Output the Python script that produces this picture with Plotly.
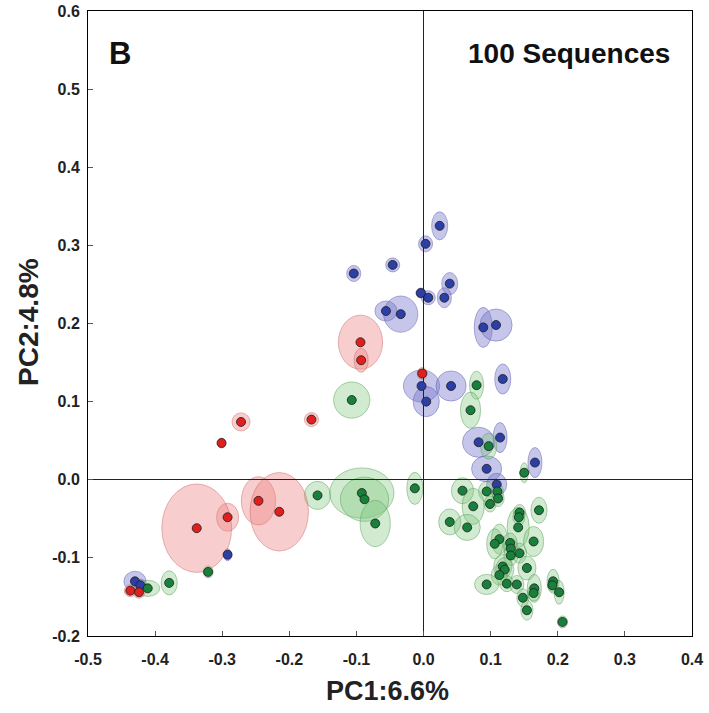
import plotly.graph_objects as go

# ---- data (PC1, PC2, ellipse half-widths) ----
blue_x = [0.024, 0.003, -0.104, -0.046, 0.039, -0.004, 0.007, 0.031, -0.056, -0.034, 0.089, 0.108,
          -0.003, 0.004, 0.041, 0.118, 0.082, 0.114, 0.094, 0.166, 0.109, -0.292, -0.430, -0.422]
blue_y = [0.325, 0.302, 0.264, 0.275, 0.251, 0.239, 0.233, 0.233, 0.216, 0.212, 0.195, 0.198,
          0.120, 0.100, 0.120, 0.129, 0.048, 0.054, 0.014, 0.022, -0.006, -0.096, -0.130, -0.135]
blue_sx = [0.012, 0.0105, 0.0105, 0.0105, 0.012, 0.0075, 0.0105, 0.0105, 0.0165, 0.0255, 0.0135, 0.024,
           0.027, 0.0195, 0.0225, 0.012, 0.024, 0.0105, 0.0225, 0.0105, 0.015, 0.006, 0.0165, 0.009]
blue_sy = [0.018, 0.0103, 0.0103, 0.009, 0.0142, 0.0064, 0.009, 0.0129, 0.0129, 0.0232, 0.0257, 0.0206,
           0.0206, 0.0193, 0.0193, 0.0193, 0.0193, 0.0193, 0.0167, 0.0193, 0.0142, 0.0077, 0.0129, 0.0077]

red_x = [-0.094, -0.093, -0.002, -0.167, -0.272, -0.301, -0.246, -0.215, -0.292, -0.338, -0.437, -0.424]
red_y = [0.176, 0.153, 0.136, 0.077, 0.074, 0.047, -0.027, -0.041, -0.048, -0.062, -0.142, -0.144]
red_sx = [0.033, 0.0105, 0.0075, 0.0105, 0.0135, 0.006, 0.0255, 0.0435, 0.0165, 0.052, 0.009, 0.009]
red_sy = [0.0347, 0.0154, 0.0077, 0.009, 0.0116, 0.0064, 0.0309, 0.0502, 0.018, 0.0566, 0.0077, 0.0077]

green_x = [-0.107, 0.079, 0.070, 0.097, 0.150, -0.013, -0.158, -0.092, -0.088, -0.072, -0.321, -0.379,
           -0.411, 0.058, 0.094, 0.110, 0.111, 0.074, 0.099, 0.039, 0.065, 0.172, 0.143, 0.142,
           0.141, 0.113, 0.106, 0.164, 0.129, 0.130, 0.130, 0.143, 0.118, 0.121, 0.154, 0.113,
           0.094, 0.124, 0.139, 0.165, 0.164, 0.148, 0.154, 0.193, 0.192, 0.202, 0.207]
green_y = [0.102, 0.121, 0.089, 0.043, 0.009, -0.011, -0.020, -0.017, -0.025, -0.056, -0.118, -0.132,
           -0.139, -0.014, -0.015, -0.015, -0.024, -0.034, -0.031, -0.054, -0.061, -0.039, -0.042, -0.048,
           -0.061, -0.076, -0.082, -0.079, -0.081, -0.088, -0.097, -0.094, -0.111, -0.115, -0.113, -0.122,
           -0.134, -0.133, -0.134, -0.139, -0.145, -0.151, -0.167, -0.130, -0.135, -0.144, -0.182]
green_sx = [0.027, 0.0105, 0.015, 0.012, 0.006, 0.012, 0.0195, 0.048, 0.036, 0.0225, 0.0075, 0.012,
            0.018, 0.0165, 0.012, 0.009, 0.009, 0.0165, 0.009, 0.0165, 0.0195, 0.012, 0.009, 0.009,
            0.0165, 0.012, 0.012, 0.015, 0.0105, 0.0105, 0.0105, 0.0105, 0.0135, 0.0135, 0.0135, 0.012,
            0.018, 0.0105, 0.0105, 0.0105, 0.009, 0.009, 0.009, 0.009, 0.0075, 0.0075, 0.0075]
green_sy = [0.0232, 0.018, 0.0232, 0.0167, 0.0129, 0.0206, 0.018, 0.0322, 0.0283, 0.0296, 0.0077, 0.0154,
            0.0103, 0.0167, 0.0129, 0.0103, 0.0103, 0.0232, 0.0103, 0.0167, 0.0167, 0.0167, 0.0103, 0.0103,
            0.0257, 0.0193, 0.0193, 0.0193, 0.0129, 0.0129, 0.0129, 0.0129, 0.0154, 0.0154, 0.0154, 0.0129,
            0.0129, 0.0103, 0.0116, 0.018, 0.0103, 0.0116, 0.0129, 0.0154, 0.0077, 0.0154, 0.0077]

x_ticks = [-0.5, -0.4, -0.3, -0.2, -0.1, 0.0, 0.1, 0.2, 0.3, 0.4]
y_ticks = [-0.2, -0.1, 0.0, 0.1, 0.2, 0.3, 0.4, 0.5, 0.6]
x_title = "PC1:6.6%"
y_title = "PC2:4.8%"
panel_label = "B"
subtitle = "100 Sequences"

groups = [
    (blue_x, blue_y, blue_sx, blue_sy, "#2b3fa6", "rgba(120,120,205,0.42)", "rgba(90,90,170,0.45)"),
    (green_x, green_y, green_sx, green_sy, "#17803a", "rgba(120,195,120,0.34)", "rgba(80,150,80,0.45)"),
    (red_x, red_y, red_sx, red_sy, "#e11f1f", "rgba(238,130,130,0.40)", "rgba(200,100,100,0.45)"),
]

FONT = "Arial, Liberation Sans, sans-serif"
# plot area on screen: x 88..692, y 11..636 (page body margin removed by post_script)
W, H = 709, 713
L, T, R, B = 88, 11, 17, 77
PW, PH = W - L - R, H - T - B


def px(sx):
    return (sx - L) / PW


def py(sy):
    return (H - B - sy) / PH


fig = go.Figure()
shapes = []
for xs, ys, sxs, sys_, mc, fc, lc in groups:
    for x, y, sx, sy in zip(xs, ys, sxs, sys_):
        shapes.append(dict(type="circle", xref="x", yref="y", x0=x - sx, x1=x + sx, y0=y - sy, y1=y + sy,
                           fillcolor=fc, line=dict(color=lc, width=1), layer="below"))
for xs, ys, sxs, sys_, mc, fc, lc in groups:
    fig.add_trace(go.Scatter(x=xs, y=ys, mode="markers",
                             marker=dict(size=9, color=mc, line=dict(color="rgba(30,30,30,0.8)", width=1)),
                             showlegend=False, hoverinfo="skip"))

axis_common = dict(showline=True, linecolor="black", linewidth=1, mirror=True, ticks="inside", ticklen=5,
                   tickcolor="#555", showgrid=False, zeroline=True, zerolinecolor="#222", zerolinewidth=1,
                   tickfont=dict(family=FONT, size=16, color="#222"), automargin=False)
fig.update_layout(
    width=W, height=H, plot_bgcolor="white", paper_bgcolor="white",
    margin=dict(l=L, r=R, t=T, b=B),
    shapes=shapes,
    xaxis=dict(range=[-0.5, 0.4], tickvals=x_ticks, ticktext=[f"<b>{v:.1f}</b>" for v in x_ticks],
               ticklabelstandoff=9, **axis_common),
    yaxis=dict(range=[-0.2, 0.6], tickvals=y_ticks, ticktext=[f"<b>{v:.1f}</b>" for v in y_ticks],
               ticklabelstandoff=4, **axis_common),
    annotations=[
        dict(text=f"<b>{panel_label}</b>", x=px(120), y=py(53), xref="paper", yref="paper", showarrow=False,
             xanchor="center", yanchor="middle", font=dict(family=FONT, size=31, color="#111")),
        dict(text=f"<b>{subtitle}</b>", x=px(569), y=py(54), xref="paper", yref="paper", showarrow=False,
             xanchor="center", yanchor="middle", font=dict(family=FONT, size=28, color="#111")),
        dict(text=f"<b>{x_title}</b>", x=px(387), y=py(691), xref="paper", yref="paper",
             showarrow=False, xanchor="center", yanchor="middle", font=dict(family=FONT, size=27, color="#222")),
        dict(text=f"<b>{y_title}</b>", x=px(28), y=py(322), xref="paper", yref="paper",
             showarrow=False, xanchor="center", yanchor="middle", textangle=-90,
             font=dict(family=FONT, size=28, color="#222")),
    ],
)
fig.write_html("out.html", config={"displayModeBar": False},
               post_script="document.body.style.margin='0';")
